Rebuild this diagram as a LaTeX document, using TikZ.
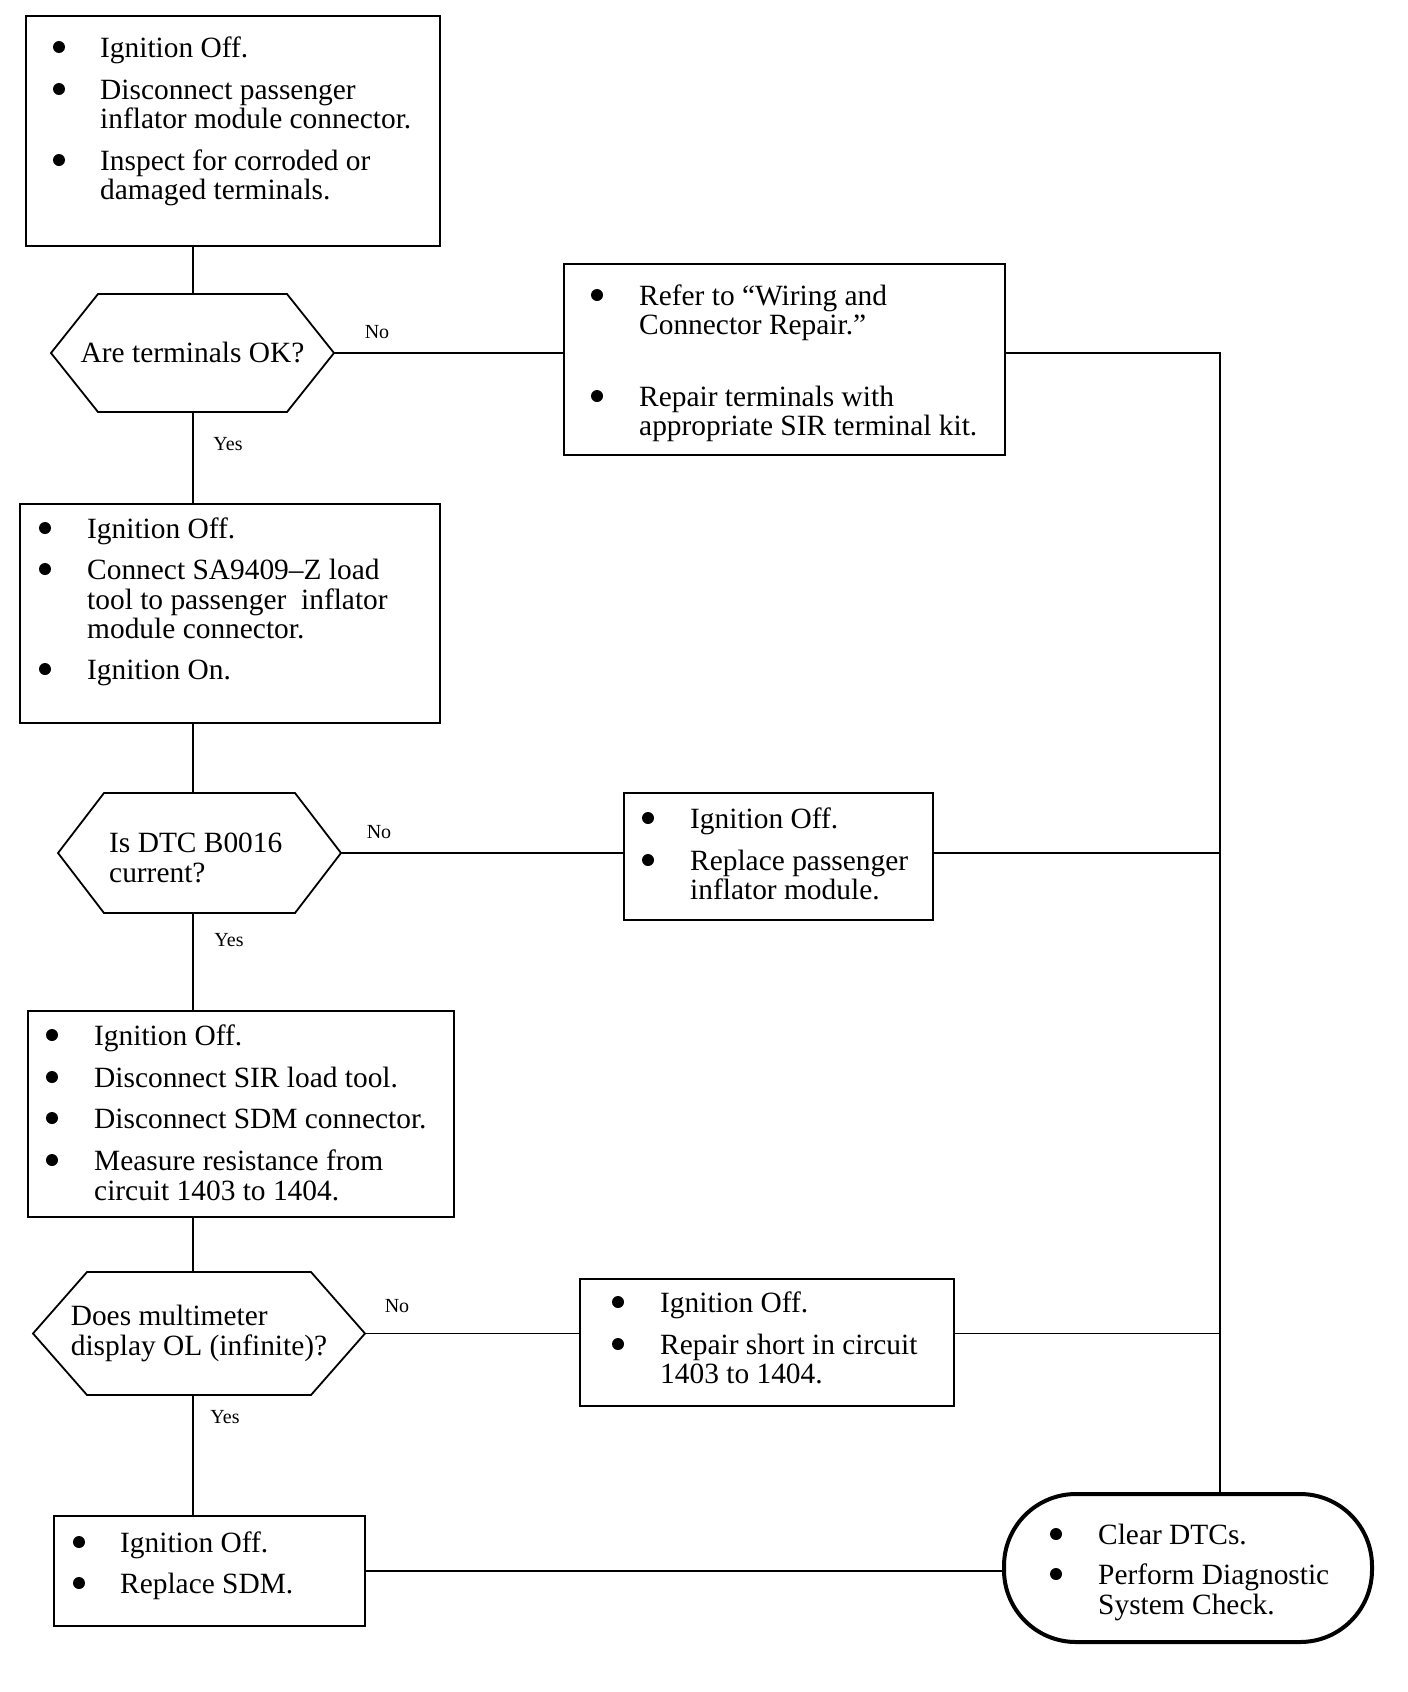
\documentclass[tikz,border=0pt]{standalone}
\usepackage{fontspec}
\setmainfont{Liberation Serif}
\newcommand\Itm[5]{\fill (#2,#4-10) circle[radius=6pt]; \node[txt] (#1) at (#3,#4) {#5};}
\newcommand\Cnt[4]{\node[txt] (#1) at (#2,#3) {#4};}
\newcommand\hexdraw[2]{\draw[hexline] (#1.west) -- ([xshift=#2pt]#1.north west) -- ([xshift=-#2pt]#1.north east) -- (#1.east) -- ([xshift=-#2pt]#1.south east) -- ([xshift=#2pt]#1.south west) -- cycle;}
\begin{document}
\begin{tikzpicture}[x=1pt,y=-1pt,
  box/.style={draw, line width=1.8pt, inner sep=0pt, outer sep=0pt, anchor=north west},
  hexn/.style={inner sep=0pt, outer sep=0pt, align=left, font=\fontsize{29.4}{30}\selectfont},
  hexline/.style={line width=1.8pt, line join=miter},
  term/.style={draw, line width=4pt, rounded corners=72pt, inner sep=0pt, outer sep=0pt, anchor=north west},
  conn/.style={line width=1.3pt},
  txt/.style={anchor=base west, inner sep=0pt, font=\fontsize{29.4}{30}\selectfont},
  lbl/.style={anchor=base, inner sep=0pt, font=\fontsize{20}{22}\selectfont},
]
\fill[white] (0,0) rectangle (1408,1692);
\useasboundingbox (0,0) rectangle (1408,1692);
\coordinate (spine) at (193,0);
\coordinate (rail) at (1220,0);

% boxes
\node[box, minimum width=414, minimum height=230] (b1) at (26,16) {};
\node[box, minimum width=441, minimum height=191] (b2) at (564,264) {};
\node[box, minimum width=420, minimum height=219] (b3) at (20,504) {};
\node[box, minimum width=309, minimum height=127] (b4) at (624,793) {};
\node[box, minimum width=426, minimum height=206] (b5) at (28,1011) {};
\node[box, minimum width=374, minimum height=127] (b6) at (580,1279) {};
\node[box, minimum width=311, minimum height=110] (b7) at (54,1516) {};
\node[term, minimum width=368, minimum height=148] (t) at (1004,1494) {};

% decisions
\node[hexn, minimum width=283, minimum height=118] (h1) at (192.5,353) {Are terminals OK?};
\hexdraw{h1}{47}
\node[hexn, minimum width=283, minimum height=120] (h2) at (199.5,853) {};
\hexdraw{h2}{46}
\Cnt{h2a}{109}{852}{Is DTC B0016}
\Cnt{h2b}{109}{882}{current?}
\node[hexn, minimum width=332, minimum height=123] (h3) at (199,1333.5) {Does multimeter\\display OL (infinite)?};
\hexdraw{h3}{54}

% texts
\Itm{b1a}{59}{100}{57}{Ignition Off.}
\Itm{b1b}{59}{100}{99}{Disconnect passenger}
\Cnt{b1c}{100}{128}{inflator module connector.}
\Itm{b1d}{59}{100}{170}{Inspect for corroded or}
\Cnt{b1e}{100}{199}{damaged terminals.}

\Itm{b2a}{597}{639}{305}{Refer to “Wiring and}
\Cnt{b2b}{639}{334}{Connector Repair.”}
\Itm{b2c}{597}{639}{406}{Repair terminals with}
\Cnt{b2d}{639}{435}{appropriate SIR terminal kit.}

\Itm{b3a}{45}{87}{538}{Ignition Off.}
\Itm{b3b}{45}{87}{579}{Connect SA9409–Z load}
\Cnt{b3c}{87}{609}{tool to passenger\ \ inflator}
\Cnt{b3d}{87}{638}{module connector.}
\Itm{b3e}{45}{87}{679}{Ignition On.}

\Itm{b4a}{648}{690}{828}{Ignition Off.}
\Itm{b4b}{648}{690}{870}{Replace passenger}
\Cnt{b4c}{690}{899}{inflator module.}

\Itm{b5a}{52}{94}{1045}{Ignition Off.}
\Itm{b5b}{52}{94}{1087}{Disconnect SIR load tool.}
\Itm{b5c}{52}{94}{1128}{Disconnect SDM connector.}
\Itm{b5d}{52}{94}{1170}{Measure resistance from}
\Cnt{b5e}{94}{1200}{circuit 1403 to 1404.}

\Itm{b6a}{618}{660}{1312}{Ignition Off.}
\Itm{b6b}{618}{660}{1354}{Repair short in circuit}
\Cnt{b6c}{660}{1383}{1403 to 1404.}

\Itm{b7a}{79}{120}{1552}{Ignition Off.}
\Itm{b7b}{79}{120}{1593}{Replace SDM.}

\Itm{ta}{1056}{1098}{1544}{Clear DTCs.}
\Itm{tb}{1056}{1098}{1584}{Perform Diagnostic}
\Cnt{tc}{1098}{1614}{System Check.}

% labels
\node[lbl] (no1) at (377,338) {No};
\node[lbl] (no2) at (379,838) {No};
\node[lbl] (no3) at (397,1312) {No};
\node[lbl] (yes1) at (228,450) {Yes};
\node[lbl] (yes2) at (229,946) {Yes};
\node[lbl] (yes3) at (225,1423) {Yes};

% connectors
\draw[conn] (b1.south -| spine) -- (h1.north -| spine);
\draw[conn] (h1.south -| spine) -- (b3.north -| spine);
\draw[conn] (b3.south -| spine) -- (h2.north -| spine);
\draw[conn] (h2.south -| spine) -- (b5.north -| spine);
\draw[conn] (b5.south -| spine) -- (h3.north -| spine);
\draw[conn] (h3.south -| spine) -- (b7.north -| spine);

\draw[conn] (h1.east) -- (h1.east -| b2.west);
\draw[conn] (h1.east -| b2.east) -- (h1.east -| rail) -- (rail |- t.north);
\draw[conn] (h2.east) -- (h2.east -| b4.west);
\draw[conn] (h2.east -| b4.east) -- (h2.east -| rail);
\draw[conn] (h3.east) -- (h3.east -| b6.west);
\draw[conn] (h3.east -| b6.east) -- (h3.east -| rail);
\draw[conn] (b7.east) -- (b7.east -| t.west);
\end{tikzpicture}
\end{document}
